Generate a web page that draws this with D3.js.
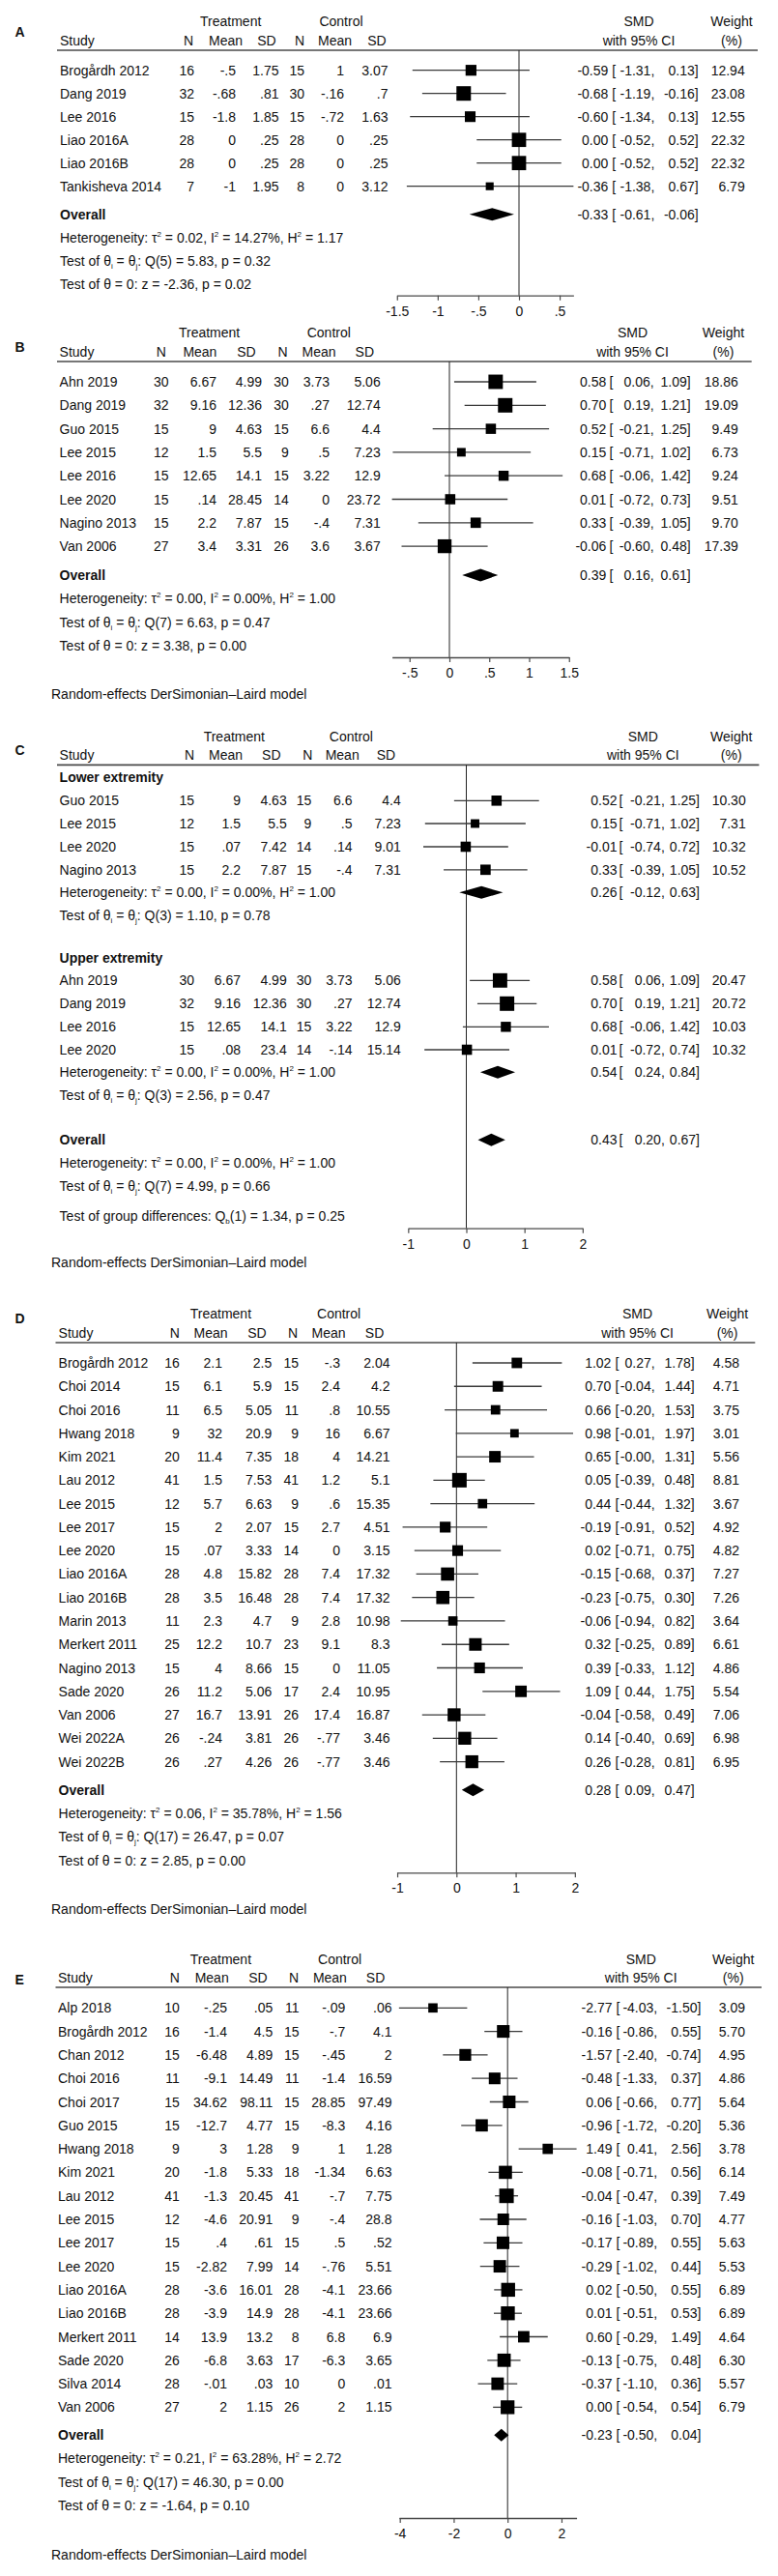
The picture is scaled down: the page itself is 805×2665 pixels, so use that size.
<!DOCTYPE html>
<html><head><meta charset="utf-8">
<script src="https://cdn.jsdelivr.net/npm/d3@7"></script>
<style>
body{margin:0;background:#fff}
svg{display:block}
text{font-family:"Liberation Sans",Arial,Helvetica,sans-serif;font-size:14px;fill:#111}
</style>
</head><body>
<svg id="chart" width="805" height="2665"></svg>
<script>
// ================= DATA =================
// ---- Panel A ----
const aStudies = ["Brogårdh 2012","Dang 2019","Lee 2016","Liao 2016A","Liao 2016B","Tankisheva 2014"];
const aTN = [16,32,15,28,28,7];
const aTMean = [-0.5,-0.68,-1.8,0,0,-1];
const aTSD = [1.75,0.81,1.85,0.25,0.25,1.95];
const aCN = [15,30,15,28,28,8];
const aCMean = [1,-0.16,-0.72,0,0,0];
const aCSD = [3.07,0.7,1.63,0.25,0.25,3.12];
const aSMD = [-0.59,-0.68,-0.60,0.00,0.00,-0.36];
const aLow = [-1.31,-1.19,-1.34,-0.52,-0.52,-1.38];
const aHigh = [0.13,-0.16,0.13,0.52,0.52,0.67];
const aWeight = [12.94,23.08,12.55,22.32,22.32,6.79];
const aOverall = [-0.33,-0.61,-0.06];
const aHet = [0.02,14.27,1.17];
const aQ = [5,5.83,0.32];
const aZ = [-2.36,0.02];
const aTicks = [-1.5,-1,-0.5,0,0.5];
const aTickLabels = ["-1.5","-1","-.5","0",".5"];

// ---- Panel B ----
const bStudies = ["Ahn 2019","Dang 2019","Guo 2015","Lee 2015","Lee 2016","Lee 2020","Nagino 2013","Van 2006"];
const bTN = [30,32,15,12,15,15,15,27];
const bTMean = [6.67,9.16,9,1.5,12.65,0.14,2.2,3.4];
const bTSD = [4.99,12.36,4.63,5.5,14.1,28.45,7.87,3.31];
const bCN = [30,30,15,9,15,14,15,26];
const bCMean = [3.73,0.27,6.6,0.5,3.22,0,-0.4,3.6];
const bCSD = [5.06,12.74,4.4,7.23,12.9,23.72,7.31,3.67];
const bSMD = [0.58,0.70,0.52,0.15,0.68,0.01,0.33,-0.06];
const bLow = [0.06,0.19,-0.21,-0.71,-0.06,-0.72,-0.39,-0.60];
const bHigh = [1.09,1.21,1.25,1.02,1.42,0.73,1.05,0.48];
const bWeight = [18.86,19.09,9.49,6.73,9.24,9.51,9.70,17.39];
const bOverall = [0.39,0.16,0.61];
const bHet = [0.00,0.00,1.00];
const bQ = [7,6.63,0.47];
const bZ = [3.38,0.00];
const bTicks = [-0.5,0,0.5,1,1.5];
const bTickLabels = ["-.5","0",".5","1","1.5"];

// ---- Panel C (subgroups) ----
const cGroupNames = ["Lower extremity","Upper extremity"];
const cGroup = [0,0,0,0,1,1,1,1];
const cStudies = ["Guo 2015","Lee 2015","Lee 2020","Nagino 2013","Ahn 2019","Dang 2019","Lee 2016","Lee 2020"];
const cTN = [15,12,15,15,30,32,15,15];
const cTMean = [9,1.5,0.07,2.2,6.67,9.16,12.65,0.08];
const cTSD = [4.63,5.5,7.42,7.87,4.99,12.36,14.1,23.4];
const cCN = [15,9,14,15,30,30,15,14];
const cCMean = [6.6,0.5,0.14,-0.4,3.73,0.27,3.22,-0.14];
const cCSD = [4.4,7.23,9.01,7.31,5.06,12.74,12.9,15.14];
const cSMD = [0.52,0.15,-0.01,0.33,0.58,0.70,0.68,0.01];
const cLow = [-0.21,-0.71,-0.74,-0.39,0.06,0.19,-0.06,-0.72];
const cHigh = [1.25,1.02,0.72,1.05,1.09,1.21,1.42,0.74];
const cWeight = [10.30,7.31,10.32,10.52,20.47,20.72,10.03,10.32];
const cSubtotals = [[0.26,-0.12,0.63],[0.54,0.24,0.84]];
const cSubHet = [[0.00,0.00,1.00],[0.00,0.00,1.00]];
const cSubQ = [[3,1.10,0.78],[3,2.56,0.47]];
const cOverall = [0.43,0.20,0.67];
const cHet = [0.00,0.00,1.00];
const cQ = [7,4.99,0.66];
const cGroupTest = [1,1.34,0.25];
const cTicks = [-1,0,1,2];
const cTickLabels = ["-1","0","1","2"];

// ---- Panel D ----
const dStudies = ["Brogårdh 2012","Choi 2014","Choi 2016","Hwang 2018","Kim 2021","Lau 2012","Lee 2015","Lee 2017","Lee 2020","Liao 2016A","Liao 2016B","Marin 2013","Merkert 2011","Nagino 2013","Sade 2020","Van 2006","Wei 2022A","Wei 2022B"];
const dTN = [16,15,11,9,20,41,12,15,15,28,28,11,25,15,26,27,26,26];
const dTMean = [2.1,6.1,6.5,32,11.4,1.5,5.7,2,0.07,4.8,3.5,2.3,12.2,4,11.2,16.7,-0.24,0.27];
const dTSD = [2.5,5.9,5.05,20.9,7.35,7.53,6.63,2.07,3.33,15.82,16.48,4.7,10.7,8.66,5.06,13.91,3.81,4.26];
const dCN = [15,15,11,9,18,41,9,15,14,28,28,9,23,15,17,26,26,26];
const dCMean = [-0.3,2.4,0.8,16,4,1.2,0.6,2.7,0,7.4,7.4,2.8,9.1,0,2.4,17.4,-0.77,-0.77];
const dCSD = [2.04,4.2,10.55,6.67,14.21,5.1,15.35,4.51,3.15,17.32,17.32,10.98,8.3,11.05,10.95,16.87,3.46,3.46];
const dSMD = [1.02,0.70,0.66,0.98,0.65,0.05,0.44,-0.19,0.02,-0.15,-0.23,-0.06,0.32,0.39,1.09,-0.04,0.14,0.26];
const dLow = [0.27,-0.04,-0.20,-0.01,-0.004,-0.39,-0.44,-0.91,-0.71,-0.68,-0.75,-0.94,-0.25,-0.33,0.44,-0.58,-0.40,-0.28];
const dHigh = [1.78,1.44,1.53,1.97,1.31,0.48,1.32,0.52,0.75,0.37,0.30,0.82,0.89,1.12,1.75,0.49,0.69,0.81];
const dWeight = [4.58,4.71,3.75,3.01,5.56,8.81,3.67,4.92,4.82,7.27,7.26,3.64,6.61,4.86,5.54,7.06,6.98,6.95];
const dOverall = [0.28,0.09,0.47];
const dHet = [0.06,35.78,1.56];
const dQ = [17,26.47,0.07];
const dZ = [2.85,0.00];
const dTicks = [-1,0,1,2];
const dTickLabels = ["-1","0","1","2"];

// ---- Panel E ----
const eStudies = ["Alp 2018","Brogårdh 2012","Chan 2012","Choi 2016","Choi 2017","Guo 2015","Hwang 2018","Kim 2021","Lau 2012","Lee 2015","Lee 2017","Lee 2020","Liao 2016A","Liao 2016B","Merkert 2011","Sade 2020","Silva 2014","Van 2006"];
const eTN = [10,16,15,11,15,15,9,20,41,12,15,15,28,28,14,26,28,27];
const eTMean = [-0.25,-1.4,-6.48,-9.1,34.62,-12.7,3,-1.8,-1.3,-4.6,0.4,-2.82,-3.6,-3.9,13.9,-6.8,-0.01,2];
const eTSD = [0.05,4.5,4.89,14.49,98.11,4.77,1.28,5.33,20.45,20.91,0.61,7.99,16.01,14.9,13.2,3.63,0.03,1.15];
const eCN = [11,15,15,11,15,15,9,18,41,9,15,14,28,28,8,17,10,26];
const eCMean = [-0.09,-0.7,-0.45,-1.4,28.85,-8.3,1,-1.34,-0.7,-0.4,0.5,-0.76,-4.1,-4.1,6.8,-6.3,0,2];
const eCSD = [0.06,4.1,2,16.59,97.49,4.16,1.28,6.63,7.75,28.8,0.52,5.51,23.66,23.66,6.9,3.65,0.01,1.15];
const eSMD = [-2.77,-0.16,-1.57,-0.48,0.06,-0.96,1.49,-0.08,-0.04,-0.16,-0.17,-0.29,0.02,0.01,0.60,-0.13,-0.37,0.00];
const eLow = [-4.03,-0.86,-2.40,-1.33,-0.66,-1.72,0.41,-0.71,-0.47,-1.03,-0.89,-1.02,-0.50,-0.51,-0.29,-0.75,-1.10,-0.54];
const eHigh = [-1.50,0.55,-0.74,0.37,0.77,-0.20,2.56,0.56,0.39,0.70,0.55,0.44,0.55,0.53,1.49,0.48,0.36,0.54];
const eWeight = [3.09,5.70,4.95,4.86,5.64,5.36,3.78,6.14,7.49,4.77,5.63,5.53,6.89,6.89,4.64,6.30,5.57,6.79];
const eOverall = [-0.23,-0.50,0.04];
const eHet = [0.21,63.28,2.72];
const eQ = [17,46.30,0.00];
const eZ = [-1.64,0.10];
const eTicks = [-4,-2,0,2];
const eTickLabels = ["-4","-2","0","2"];

const modelNote = "Random-effects DerSimonian–Laird model";

// ================= DRAWING =================
const svg = d3.select("#chart");
const f2 = v => v.toFixed(2);
const sn = v => String(v).replace(/^(-?)0\./, "$1.");

function hetParts(h){ return [["Heterogeneity: τ"],["2","sup"],[" = "+f2(h[0])+", I"],["2","sup"],[" = "+f2(h[1])+"%, H"],["2","sup"],[" = "+f2(h[2])]]; }
function qParts(q){ return [["Test of θ"],["i","sub"],[" = θ"],["j","sub"],[": Q("+q[0]+") = "+f2(q[1])+", p = "+f2(q[2])]]; }
function zParts(z){ return [["Test of θ = 0: z = "+f2(z[0])+", p = "+f2(z[1])]]; }
function grpParts(g){ return [["Test of group differences: Q"],["b","sub"],["("+g[0]+") = "+f2(g[1])+", p = "+f2(g[2])]]; }

function rich(g, x, y, parts){
  const t = g.append("text").attr("x", x).attr("y", y + 5);
  let shift = 0;
  parts.forEach(p => {
    const ts = t.append("tspan").text(p[0]);
    let target = 0;
    if (p[1] === "sup") { target = -6; ts.attr("font-size", 8); }
    else if (p[1] === "sub") { target = 3; ts.attr("font-size", 8); }
    if (target !== shift) { ts.attr("dy", target - shift); shift = target; }
  });
}

function txt(g, x, y, s, anchor, opts){
  const t = g.append("text").attr("x", x).attr("y", y + 5).attr("text-anchor", anchor || "start").text(s);
  if (opts && opts.bold) t.attr("font-weight", "bold");
  return t;
}

function drawPanel(P, L){
  const g = svg.append("g");
  const dmin = Math.min(d3.min(P.low), d3.min(P.ticks));
  const dmax = Math.max(d3.max(P.high), d3.max(P.ticks));
  const x = d3.scaleLinear().domain([dmin, dmax]).range([L.zero + dmin * L.ppu, L.zero + dmax * L.ppu]);
  const maxW = d3.max(P.weight);

  // panel letter
  g.append("text").attr("x", 15.5).attr("y", L.letterY + 7).attr("font-size", 20)
    .attr("font-weight", "bold").attr("fill", "#000").text(P.letter);

  // headers
  txt(g, L.tX, L.h1, "Treatment", "middle");
  txt(g, L.cX, L.h1, "Control", "middle");
  txt(g, L.smdX, L.h1, "SMD", "middle");
  txt(g, L.wX, L.h1, "Weight", "middle");
  txt(g, L.studyX, L.h2, "Study", "start");
  ["N","Mean","SD","N","Mean","SD"].forEach((h, j) => txt(g, L.hdr[j], L.h2, h, "middle"));
  txt(g, L.smdX, L.h2, "with 95% CI", "middle");
  txt(g, L.wX, L.h2, "(%)", "middle");
  g.append("line").attr("x1", L.lineX[0]).attr("x2", L.lineX[1]).attr("y1", L.line).attr("y2", L.line)
    .attr("stroke", "#4a4a4a").attr("stroke-width", 1.7);

  // zero line
  g.append("line").attr("x1", x(0)).attr("x2", x(0)).attr("y1", L.line).attr("y2", L.axisY)
    .attr("stroke", "#222").attr("stroke-width", 1);

  function ciText(y, es, lo, hi, w){
    txt(g, L.esEnd, y, f2(es), "end");
    txt(g, L.brX, y, "[", "start");
    txt(g, L.loEnd, y, f2(lo) + ",", "end");
    txt(g, L.ciEnd, y, f2(hi) + "]", "end");
    if (w !== undefined) txt(g, L.wEnd, y, f2(w), "end");
  }
  function diamond(y, est){
    const h = 6.5;
    g.append("polygon").attr("points", [[x(est[1]), y], [x(est[0]), y - h], [x(est[2]), y], [x(est[0]), y + h]].map(p => p.join(",")).join(" "))
      .attr("fill", "#000");
  }

  // study rows
  const cols = [P.tn, P.tm, P.tsd, P.cn, P.cm, P.csd];
  const marks = g.append("g");
  const lines = marks.append("g");
  const squares = marks.append("g");
  P.studies.forEach((s, i) => {
    const y = L.rowY[i];
    txt(g, L.studyX, y, s, "start");
    cols.forEach((c, j) => txt(g, L.val[j], y, sn(c[i]), "end"));
    ciText(y, P.smd[i], P.low[i], P.high[i], P.weight[i]);
    lines.append("line").attr("x1", x(P.low[i])).attr("x2", x(P.high[i])).attr("y1", y).attr("y2", y)
      .attr("stroke", "#3a3a3a").attr("stroke-width", 1.3);
    const side = 15 * Math.sqrt(P.weight[i] / maxW);
    squares.append("rect").attr("x", x(P.smd[i]) - side / 2).attr("y", y - side / 2)
      .attr("width", side).attr("height", side).attr("fill", "#000");
  });

  // extra rows
  (L.extra || []).forEach(r => {
    if (r.type === "label") txt(g, L.studyX, r.y, r.text, "start", {bold: r.bold});
    else if (r.type === "rich") rich(g, L.studyX, r.y, r.parts);
    if (r.est) { diamond(r.y, r.est); ciText(r.y, r.est[0], r.est[1], r.est[2]); }
  });

  // axis
  const axis = d3.axisBottom(x).tickValues(P.ticks).tickFormat((d, i) => P.tickLabels[i])
    .tickSizeInner(5).tickSizeOuter(0).tickPadding(6);
  const ag = g.append("g").attr("transform", `translate(0,${L.axisY})`).call(axis);
  ag.select(".domain").attr("stroke", "#4a4a4a").attr("stroke-width", 1.3);
  ag.selectAll(".tick line").attr("stroke", "#4a4a4a").attr("stroke-width", 1.2);
  ag.selectAll(".tick text").attr("font-size", 14).attr("font-family", "Liberation Sans, Arial, sans-serif").attr("fill", "#111");

  if (L.noteY) txt(g, 53, L.noteY, modelNote, "start");
}

const seq = (y0, step, n) => d3.range(n).map(i => y0 + i * step);

// ---- Panel A ----
drawPanel(
  {letter: "A", studies: aStudies, tn: aTN, tm: aTMean, tsd: aTSD, cn: aCN, cm: aCMean, csd: aCSD,
   smd: aSMD, low: aLow, high: aHigh, weight: aWeight, ticks: aTicks, tickLabels: aTickLabels},
  {letterY: 31, h1: 22, h2: 42, line: 52, lineX: [59, 784], studyX: 62,
   val: [201, 244, 288.5, 315, 356, 401.5], hdr: [195, 233.6, 276, 310, 346.5, 390], tX: 238.7, cX: 353,
   esEnd: 629.3, brX: 633.3, loEnd: 677.3, ciEnd: 722.7, wEnd: 770.7, smdX: 661, wX: 757,
   zero: 537, ppu: 84.15, axisY: 305.7, rowY: seq(72.7, 24, aStudies.length),
   extra: [
     {type: "label", text: "Overall", bold: true, y: 221.7, est: aOverall},
     {type: "rich", parts: hetParts(aHet), y: 246},
     {type: "rich", parts: qParts(aQ), y: 269.5},
     {type: "rich", parts: zParts(aZ), y: 293.5}
   ]});

// ---- Panel B ----
drawPanel(
  {letter: "B", studies: bStudies, tn: bTN, tm: bTMean, tsd: bTSD, cn: bCN, cm: bCMean, csd: bCSD,
   smd: bSMD, low: bLow, high: bHigh, weight: bWeight, ticks: bTicks, tickLabels: bTickLabels},
  {letterY: 357, h1: 344, h2: 363.5, line: 374, lineX: [59, 777.7], studyX: 61.6,
   val: [174.5, 224, 271, 298.8, 341, 393.7], hdr: [166.8, 206.9, 255, 292.6, 330, 377.3], tX: 216.6, cX: 340.3,
   esEnd: 627.3, brX: 630.4, loEnd: 676.6, ciEnd: 714.6, wEnd: 763.8, smdX: 654.5, wX: 748.5,
   zero: 465, ppu: 82.5, axisY: 680, noteY: 718, rowY: seq(395, 24.3, bStudies.length),
   extra: [
     {type: "label", text: "Overall", bold: true, y: 595, est: bOverall},
     {type: "rich", parts: hetParts(bHet), y: 619},
     {type: "rich", parts: qParts(bQ), y: 644},
     {type: "rich", parts: zParts(bZ), y: 667.7}
   ]});

// ---- Panel C ----
drawPanel(
  {letter: "C", studies: cStudies, tn: cTN, tm: cTMean, tsd: cTSD, cn: cCN, cm: cCMean, csd: cCSD,
   smd: cSMD, low: cLow, high: cHigh, weight: cWeight, ticks: cTicks, tickLabels: cTickLabels},
  {letterY: 774, h1: 761.7, h2: 780.7, line: 791.3, lineX: [59, 785.4], studyX: 61.6,
   val: [201, 249, 296.7, 322.4, 364.5, 414.8], hdr: [196, 233.6, 280.8, 318.3, 354.2, 399.4], tX: 242.3, cX: 363.4,
   esEnd: 638.5, brX: 640.5, loEnd: 687.8, ciEnd: 724, wEnd: 771.7, smdX: 665.3, wX: 756.7,
   zero: 482.5, ppu: 60.17, axisY: 1270.7, noteY: 1306,
   rowY: [828.3, 852, 876, 899.8, 1014.3, 1038.3, 1062.3, 1086],
   extra: [
     {type: "label", text: cGroupNames[0], bold: true, y: 804},
     {type: "rich", parts: hetParts(cSubHet[0]), y: 923.3, est: cSubtotals[0]},
     {type: "rich", parts: qParts(cSubQ[0]), y: 947.3},
     {type: "label", text: cGroupNames[1], bold: true, y: 991},
     {type: "rich", parts: hetParts(cSubHet[1]), y: 1109.3, est: cSubtotals[1]},
     {type: "rich", parts: qParts(cSubQ[1]), y: 1133.3},
     {type: "label", text: "Overall", bold: true, y: 1179.3, est: cOverall},
     {type: "rich", parts: hetParts(cHet), y: 1203.3},
     {type: "rich", parts: qParts(cQ), y: 1227.3},
     {type: "rich", parts: grpParts(cGroupTest), y: 1258.3}
   ]});

// ---- Panel D ----
drawPanel(
  {letter: "D", studies: dStudies, tn: dTN, tm: dTMean, tsd: dTSD, cn: dCN, cm: dCMean, csd: dCSD,
   smd: dSMD, low: dLow, high: dHigh, weight: dWeight, ticks: dTicks, tickLabels: dTickLabels},
  {letterY: 1362, h1: 1359.3, h2: 1379, line: 1389, lineX: [57.5, 781.3], studyX: 60.6,
   val: [185.8, 230, 281.3, 309, 352, 403.5], hdr: [180.7, 218, 266, 303, 340, 387.6], tX: 228.4, cX: 350.6,
   esEnd: 632.4, brX: 636.5, loEnd: 677.6, ciEnd: 718.7, wEnd: 765, smdX: 659.6, wX: 752.6,
   zero: 472.3, ppu: 61.27, axisY: 1937.3, noteY: 1975, rowY: seq(1410, 24.27, dStudies.length),
   extra: [
     {type: "label", text: "Overall", bold: true, y: 1851.7, est: dOverall},
     {type: "rich", parts: hetParts(dHet), y: 1876},
     {type: "rich", parts: qParts(dQ), y: 1900},
     {type: "rich", parts: zParts(dZ), y: 1925}
   ]});

// ---- Panel E ----
drawPanel(
  {letter: "E", studies: eStudies, tn: eTN, tm: eTMean, tsd: eTSD, cn: eCN, cm: eCMean, csd: eCSD,
   smd: eSMD, low: eLow, high: eHigh, weight: eWeight, ticks: eTicks, tickLabels: eTickLabels},
  {letterY: 2046, h1: 2026.7, h2: 2046, line: 2056, lineX: [57.5, 788], studyX: 60,
   val: [185.8, 235, 282.3, 309.5, 357.3, 405.5], hdr: [180.7, 219.2, 267, 304, 341.4, 388.6], tX: 228.4, cX: 351.6,
   esEnd: 633.5, brX: 637.6, loEnd: 680.2, ciEnd: 725.4, wEnd: 771, smdX: 663.2, wX: 758.7,
   zero: 525.2, ppu: 27.88, axisY: 2605, noteY: 2643.3, rowY: seq(2077.3, 24.3, eStudies.length),
   extra: [
     {type: "label", text: "Overall", bold: true, y: 2519.3, est: eOverall},
     {type: "rich", parts: hetParts(eHet), y: 2543.3},
     {type: "rich", parts: qParts(eQ), y: 2568.3},
     {type: "rich", parts: zParts(eZ), y: 2592.3}
   ]});
</script>
</body></html>
